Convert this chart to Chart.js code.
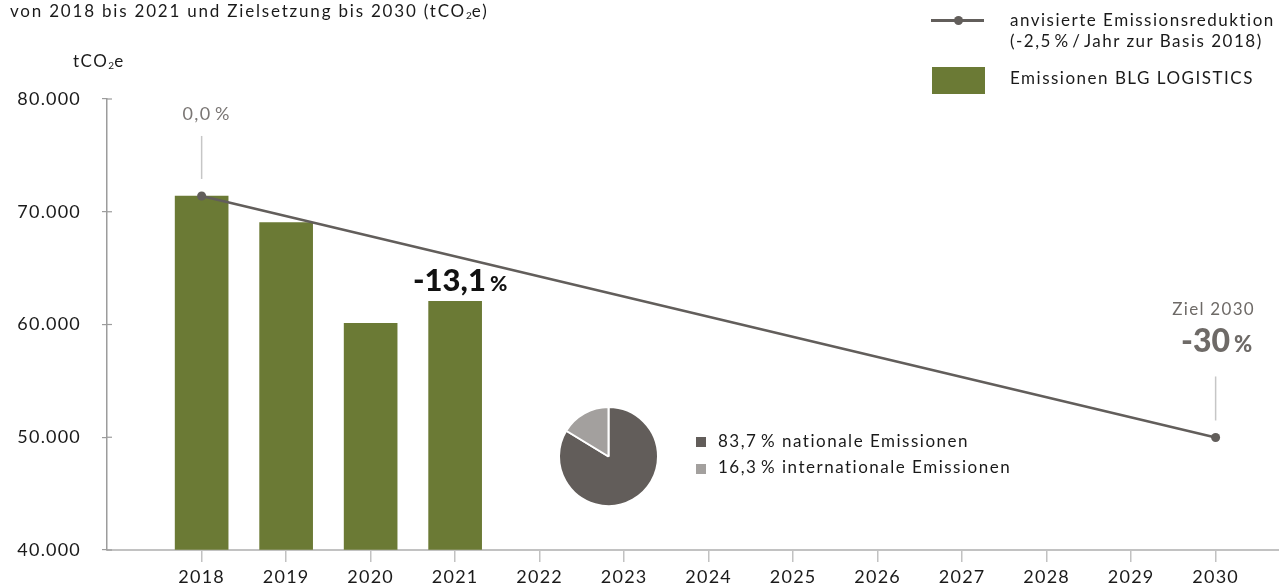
<!DOCTYPE html>
<html><head><meta charset="utf-8">
<script src="https://cdn.jsdelivr.net/npm/chart.js@4.4.1/dist/chart.umd.min.js"></script>
<style>
html,body{margin:0;padding:0;background:#fff;}
body{width:1279px;height:586px;position:relative;overflow:hidden;font-family:Lato,"Noto Sans",sans-serif;color:#1a1a1a;}
#main{position:absolute;left:0;top:0;}
#pie{position:absolute;left:558px;top:406px;}
.t{position:absolute;white-space:nowrap;font-size:17px;letter-spacing:1.5px;line-height:17px;}
.sub{font-size:10px;vertical-align:-2px;letter-spacing:0;}
.sw{position:absolute;}
</style>
</head><body>
<canvas id="main" width="1279" height="586"></canvas>
<canvas id="pie" width="101" height="101"></canvas>

<div class="t" style="left:10px;top:2px;letter-spacing:1.8px;">von 2018 bis 2021 und Zielsetzung bis 2030 (tCO<span class="sub">2</span>e)</div>
<div class="t" style="left:73px;top:52px;">tCO<span class="sub">2</span>e</div>

<div class="sw" style="left:931px;top:19px;width:53px;height:2.5px;background:#625e5b;"></div>
<div class="sw" style="left:953.5px;top:15.5px;width:9px;height:9px;border-radius:50%;background:#625e5b;"></div>
<div class="t" id="lg1" style="left:1010px;top:11px;"></div>
<div class="t" style="left:1010px;top:32px;">(-2,5&#8202;%&#8202;/&#8202;Jahr zur Basis 2018)</div>
<div class="sw" style="left:932px;top:67px;width:53px;height:27px;background:#6b7a35;"></div>
<div class="t" id="lg2" style="left:1010px;top:69px;"></div>

<div class="sw" style="left:696px;top:437px;width:10px;height:10px;background:#625d5a;"></div>
<div class="t" id="pl1" style="left:718px;top:432px;"></div>
<div class="sw" style="left:696px;top:464px;width:10px;height:10px;background:#a3a09e;"></div>
<div class="t" id="pl2" style="left:718px;top:458px;"></div>

<script>
// ---- data ----
const years = [2018, 2019, 2020, 2021, 2022, 2023, 2024, 2025, 2026, 2027, 2028, 2029, 2030];
const barYears = [2018, 2019, 2020, 2021];
const emissions = [71400, 69050, 60100, 62050];
const targetYears = [2018, 2030];
const targetValues = [71400, 49980];
const yTicks = [40000, 50000, 60000, 70000, 80000];
const seriesNames = ['anvisierte Emissionsreduktion', 'Emissionen BLG LOGISTICS'];
const pieLabels = ['nationale Emissionen', 'internationale Emissionen'];
const pieShares = [83.7, 16.3];
const startLabel = '0,0';
const actualLabel = '-13,1';
const goalTitle = 'Ziel 2030';
const goalLabel = '-30';

const LINE = '#625e5b', GREEN = '#6b7a35', DARK = '#625d5a', LIGHT = '#a3a09e';

document.getElementById('lg1').textContent = seriesNames[0];
document.getElementById('lg2').textContent = seriesNames[1];
document.getElementById('pl1').textContent = String(pieShares[0]).replace('.', ',') + '\u2009% ' + pieLabels[0];
document.getElementById('pl2').textContent = String(pieShares[1]).replace('.', ',') + '\u2009% ' + pieLabels[1];

function composite(ctx, big, small, cx, baseline, color, bigSize, smallSize) {
  ctx.save();
  ctx.letterSpacing = '0px';
  ctx.fillStyle = color; ctx.textBaseline = 'alphabetic'; ctx.textAlign = 'left';
  ctx.font = '900 ' + bigSize + 'px Lato'; const w1 = ctx.measureText(big).width;
  ctx.font = '900 ' + smallSize + 'px Lato'; const w2 = ctx.measureText(small).width;
  const gap = 4; let x = cx - (w1 + gap + w2) / 2;
  ctx.font = '900 ' + bigSize + 'px Lato'; ctx.fillText(big, x, baseline);
  ctx.font = '900 ' + smallSize + 'px Lato'; ctx.fillText(small, x + w1 + gap, baseline);
  ctx.restore();
}

const annot = {
  id: 'annot',
  beforeInit(c) { c.ctx.letterSpacing = '1.2px'; },
  beforeDraw(c) { c.ctx.letterSpacing = '1.2px'; },
  afterDatasetsDraw(c) {
    const ctx = c.ctx;
    const lp = c.getDatasetMeta(0).data;
    const bp = c.getDatasetMeta(1).data;
    const p0 = lp[0], p1 = lp[lp.length - 1], b = bp[bp.length - 1];
    ctx.save();
    const ys = c.scales.y;
    ctx.strokeStyle = '#9c9c9c'; ctx.lineWidth = 1.2;
    yTicks.forEach(v => { const y = ys.getPixelForValue(v); ctx.beginPath(); ctx.moveTo(c.chartArea.left, y); ctx.lineTo(c.chartArea.left + 5, y); ctx.stroke(); });
    ctx.strokeStyle = '#c6c6c6'; ctx.lineWidth = 1.5;
    ctx.beginPath(); ctx.moveTo(p0.x, p0.y - 60); ctx.lineTo(p0.x, p0.y - 17); ctx.stroke();
    ctx.beginPath(); ctx.moveTo(p1.x, p1.y - 61); ctx.lineTo(p1.x, p1.y - 17); ctx.stroke();
    ctx.letterSpacing = '1.3px';
    ctx.textAlign = 'center'; ctx.textBaseline = 'alphabetic';
    ctx.fillStyle = '#7a7674'; ctx.font = '18px Lato';
    ctx.fillText(startLabel + '\u2009%', p0.x + 5, p0.y - 76);
    ctx.fillStyle = '#6e6a67'; ctx.font = '17px Lato';
    ctx.fillText(goalTitle, p1.x - 2, p1.y - 122);
    ctx.restore();
    composite(ctx, goalLabel, '%', p1.x + 1, p1.y - 85, '#6e6a67', 32, 22);
    composite(ctx, actualLabel, '%', b.x + 5, b.y - 10, '#111111', 31, 21);
  }
};

new Chart(document.getElementById('main'), {
  type: 'bar',
  data: {
    datasets: [
      { type: 'line', label: seriesNames[0], data: targetYears.map((x, i) => ({ x, y: targetValues[i] })),
        borderColor: LINE, borderWidth: 2.5, pointRadius: 4.5, pointBackgroundColor: LINE, pointBorderWidth: 0, order: 0, clip: false },
      { type: 'bar', label: seriesNames[1], data: barYears.map((x, i) => ({ x, y: emissions[i] })),
        backgroundColor: GREEN, barThickness: 53, base: 40000, order: 1 }
    ]
  },
  options: {
    responsive: false, animation: false, events: [],
    layout: { autoPadding: false, padding: { top: 99, left: 0, right: 0, bottom: 0 } },
    plugins: { legend: { display: false }, tooltip: { enabled: false } },
    scales: {
      x: { type: 'linear', min: 2016.88, max: 2030.75, offset: false,
        afterBuildTicks: s => { s.ticks = years.map(v => ({ value: v })); },
        afterFit: s => { s.height = 36; },
        grid: { offset: false, drawOnChartArea: false, drawTicks: true, tickLength: 12, color: '#c2c2c2', lineWidth: 1.5 },
        border: { color: '#c2c2c2', width: 2 },
        ticks: { callback: v => String(v), color: '#1a1a1a', font: { family: 'Lato', size: 18 }, padding: 4, maxRotation: 0, autoSkip: false }
      },
      y: { min: 40000, max: 80000,
        afterBuildTicks: s => { s.ticks = yTicks.map(v => ({ value: v })); },
        afterFit: s => { s.width = 107; },
        grid: { drawOnChartArea: false, drawTicks: true, tickLength: 5, color: '#9c9c9c', lineWidth: 1.2 },
        border: { color: '#9c9c9c', width: 1.5 },
        ticks: { callback: v => v.toLocaleString('de-DE'), color: '#1a1a1a', font: { family: 'Lato', size: 18 }, padding: 21 }
      }
    }
  },
  plugins: [annot]
});

new Chart(document.getElementById('pie'), {
  type: 'pie',
  data: { labels: pieLabels, datasets: [{ data: pieShares, backgroundColor: [DARK, LIGHT], borderColor: '#fff', borderWidth: 2 }] },
  options: { responsive: false, animation: false, events: [], layout: { padding: 0 },
    plugins: { legend: { display: false }, tooltip: { enabled: false } } }
});
</script>
</body></html>
